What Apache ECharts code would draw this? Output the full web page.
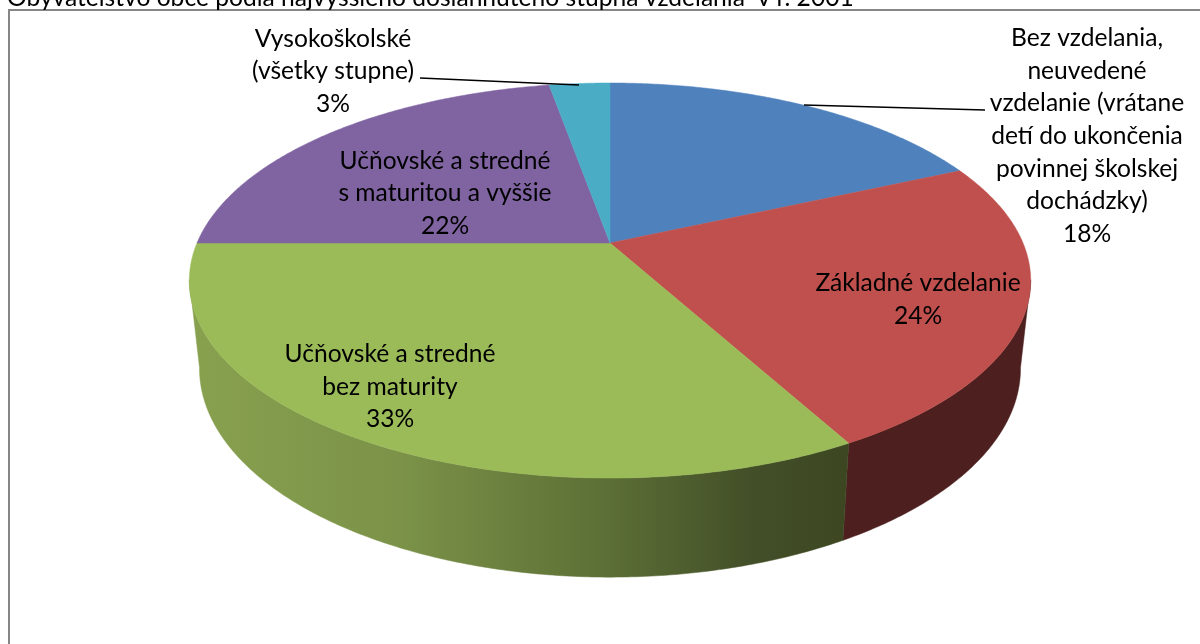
<!DOCTYPE html>
<html><head><meta charset="utf-8">
<style>html,body{margin:0;padding:0;background:#fff}#c{width:1200px;height:644px}</style>
<script src="https://cdn.jsdelivr.net/npm/echarts@6/dist/echarts.min.js"></script>
</head><body><div id="c"></div>
<script>
const titleText = 'Obyvateľstvo obce podľa najvyššieho dosiahnutého stupňa vzdelania  v r. 2001';
const categories = [
  'Bez vzdelania,\nneuvedené\nvzdelanie (vrátane\ndetí do ukončenia\npovinnej školskej\ndochádzky)',
  'Základné vzdelanie',
  'Učňovské a stredné\nbez maturity',
  'Učňovské a stredné\ns maturitou a vyššie',
  'Vysokoškolské\n(všetky stupne)'
];
const values = [18.3, 23.7, 33, 22.2, 2.8];
const colors = ['#4f81bd', '#c0504d', '#9bbb59', '#8064a2', '#4bacc6'];

// projection of the tilted disc
const TOP = {cx: 610, cy: 243, a: 413, b: 190.4, k: 0.19};
const BOT = {cx: 610, cy: 329, a: 403, b: 201, k: 0.19};
// only this part of the wall (radians from 12 o'clock) faces the viewer
const FRONT = [100.7 * Math.PI / 180, 259.3 * Math.PI / 180];
function project(d, angle) {
  const u = Math.sin(angle), v = -Math.cos(angle), w = 1 - d.k * v;
  return [d.cx + d.a * u / w, d.cy + d.b * v / w];
}
const total = values.reduce((s, x) => s + x, 0);
let acc = 0;
const spans = values.map(x => {
  const s = [acc / total * 2 * Math.PI, (acc + x) / total * 2 * Math.PI];
  acc += x;
  return s;
});
function rim(d, a0, a1) {
  const n = Math.max(2, Math.ceil((a1 - a0) / 0.01)), pts = [];
  for (let i = 0; i <= n; i++) pts.push(project(d, a0 + (a1 - a0) * i / n));
  return pts;
}
const sideFill = [
  colors[0],
  '#4d201f',
  {type: 'linear', x: 190, y: 0, x2: 850, y2: 0, global: true, colorStops: [
    {offset: 0, color: '#88a14f'},
    {offset: 0.32, color: '#7b9248'},
    {offset: 0.64, color: '#5b6e35'},
    {offset: 0.85, color: '#434f28'},
    {offset: 1, color: '#3c4722'}
  ]},
  colors[3],
  colors[4]
];
// label placement, same order as categories
const labelBox = [[1087, 22], [918, 267], [390, 338], [445, 144.5], [333, 22.5]];
const leaders = [[[804, 105], [985, 110]], null, null, null, [[420, 78], [579, 85]]];
const labelFont = 'Lato, Carlito, sans-serif';

const chart = echarts.init(document.getElementById('c'), null, {renderer: 'canvas'});
chart.setOption({
  animation: false,
  backgroundColor: '#fff',
  title: {
    text: titleText, left: 2, top: -19,
    textStyle: {fontFamily: labelFont, fontSize: 24.6, fontWeight: 'normal', color: '#000'}
  },
  graphic: [
    {type: 'polyline', shape: {points: [[9, 644], [9, 10], [1200, 10]]},
     style: {stroke: '#868686', lineWidth: 2, fill: null}, z: 0}
  ],
  series: [
    {
      type: 'custom', coordinateSystem: 'none', silent: true, z: 1,
      data: values,
      renderItem(params) {
        const i = params.dataIndex;
        const a0 = Math.max(spans[i][0], FRONT[0]), a1 = Math.min(spans[i][1], FRONT[1]);
        if (a1 <= a0) return null;
        const pts = rim(TOP, a0, a1).concat(rim(BOT, a0, a1).reverse());
        return {type: 'polygon', shape: {points: pts}, style: {fill: sideFill[i], stroke: sideFill[i], lineWidth: 0.5}};
      }
    },
    {
      type: 'custom', coordinateSystem: 'none', silent: true, z: 2,
      data: values,
      renderItem(params) {
        const i = params.dataIndex, [a0, a1] = spans[i];
        const pts = [[TOP.cx, TOP.cy]].concat(rim(TOP, a0, a1));
        return {type: 'polygon', shape: {points: pts}, style: {fill: colors[i], stroke: colors[i], lineWidth: 0.5}};
      }
    },
    {
      type: 'custom', coordinateSystem: 'none', silent: true, z: 3,
      data: values,
      renderItem(params) {
        const i = params.dataIndex;
        const children = [{
          type: 'text', x: labelBox[i][0], y: labelBox[i][1],
          style: {
            text: categories[i] + '\n' + Math.round(values[i] / total * 100) + '%',
            fill: '#000', font: '24.6px ' + labelFont, lineHeight: 32.6,
            align: 'center', verticalAlign: 'top'
          }
        }];
        if (leaders[i]) children.push({
          type: 'polyline', shape: {points: leaders[i]},
          style: {stroke: '#000', lineWidth: 1.5, fill: null}
        });
        return {type: 'group', children};
      }
    }
  ]
});
</script></body></html>
